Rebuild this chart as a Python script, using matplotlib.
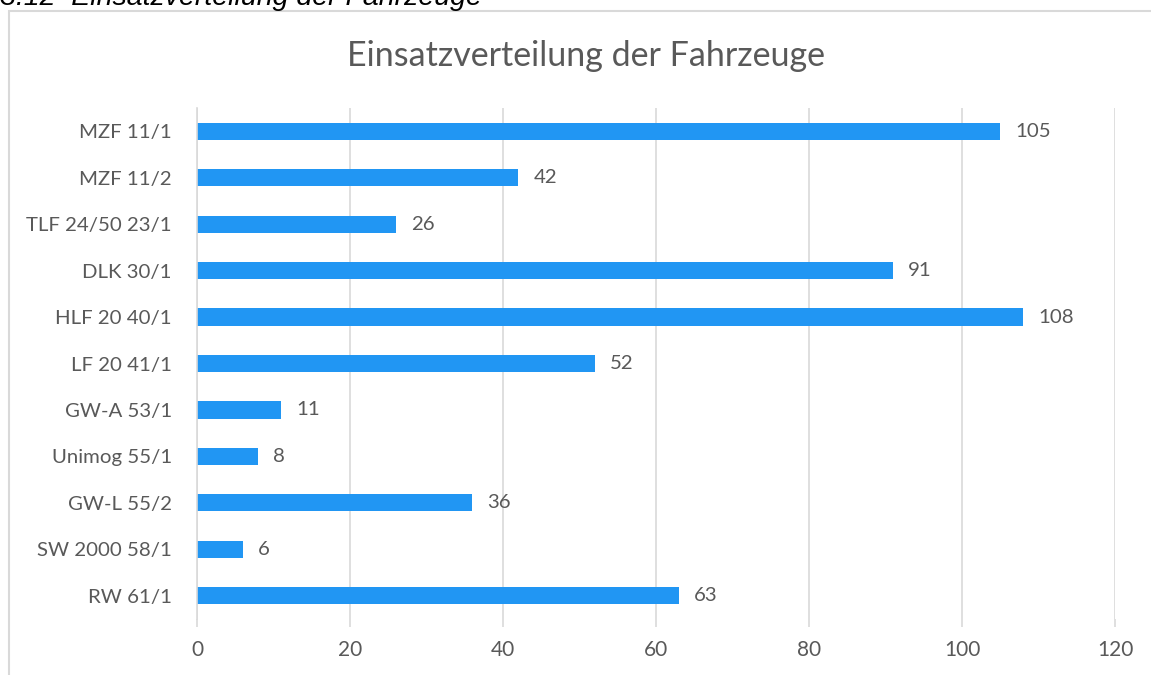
import matplotlib
matplotlib.use("Agg")
import matplotlib.pyplot as plt
from matplotlib.patches import Rectangle

categories = ["MZF 11/1", "MZF 11/2", "TLF 24/50 23/1", "DLK 30/1", "HLF 20 40/1",
              "LF 20 41/1", "GW-A 53/1", "Unimog 55/1", "GW-L 55/2", "SW 2000 58/1", "RW 61/1"]
values = [105, 42, 26, 91, 108, 52, 11, 8, 36, 6, 63]
xticks = [0, 20, 40, 60, 80, 100, 120]

W, H = 1151, 675
fig = plt.figure(figsize=(W / 100, H / 100), dpi=100)
fig.patch.set_facecolor("white")

# outer chart frame
fig.patches.append(Rectangle((9 / W, -0.1), 1.2, 1 - 11 / H + 0.1, transform=fig.transFigure,
                             fill=False, edgecolor="#d9d9d9", linewidth=1.5))

# caption above the frame (cropped at the top in the reference)
fig.text(0 / W, 1 - 5 / H, "3.12  Einsatzverteilung der Fahrzeuge", fontsize=20.5,
         style="italic", family="Liberation Sans", color="black", ha="left", va="baseline")

ax = fig.add_axes([197 / W, 1 - 619 / H, (1115 - 197) / W, (619 - 108) / H])
text_color = "#595959"
font = "Lato"
fs = 14.7

y = list(range(len(categories)))
ax.barh(y, values, height=0.37, color="#2196F3")
ax.set_ylim(len(categories) - 0.5, -0.5)
ax.set_xlim(0, 120)
ax.set_xticks(xticks)
ax.set_xticklabels([str(t) for t in xticks], fontsize=15, color=text_color, family=font)
ax.set_yticks(y)
ax.set_yticklabels(categories, fontsize=fs, color=text_color, family=font)
ax.tick_params(axis="x", length=6, color="#d9d9d9", pad=9, width=1.2, direction="out")
ax.tick_params(axis="y", length=0, pad=18)
ax.xaxis.grid(True, color="#d9d9d9", linewidth=1.2)
ax.set_axisbelow(True)
for s in ["top", "right", "bottom"]:
    ax.spines[s].set_visible(False)
ax.spines["left"].set_color("#d9d9d9")
ax.spines["left"].set_linewidth(1.2)

for yi, v in zip(y, values):
    ax.annotate(str(v), (v, yi), xytext=(15, 0), textcoords="offset pixels",
                va="center", ha="left", fontsize=fs, color=text_color, family=font)

fig.text(586 / W, 1 - 56 / H, "Einsatzverteilung der Fahrzeuge", fontsize=24.5,
         color=text_color, family=font, ha="center", va="center")

fig.savefig("out.png", dpi=100)
